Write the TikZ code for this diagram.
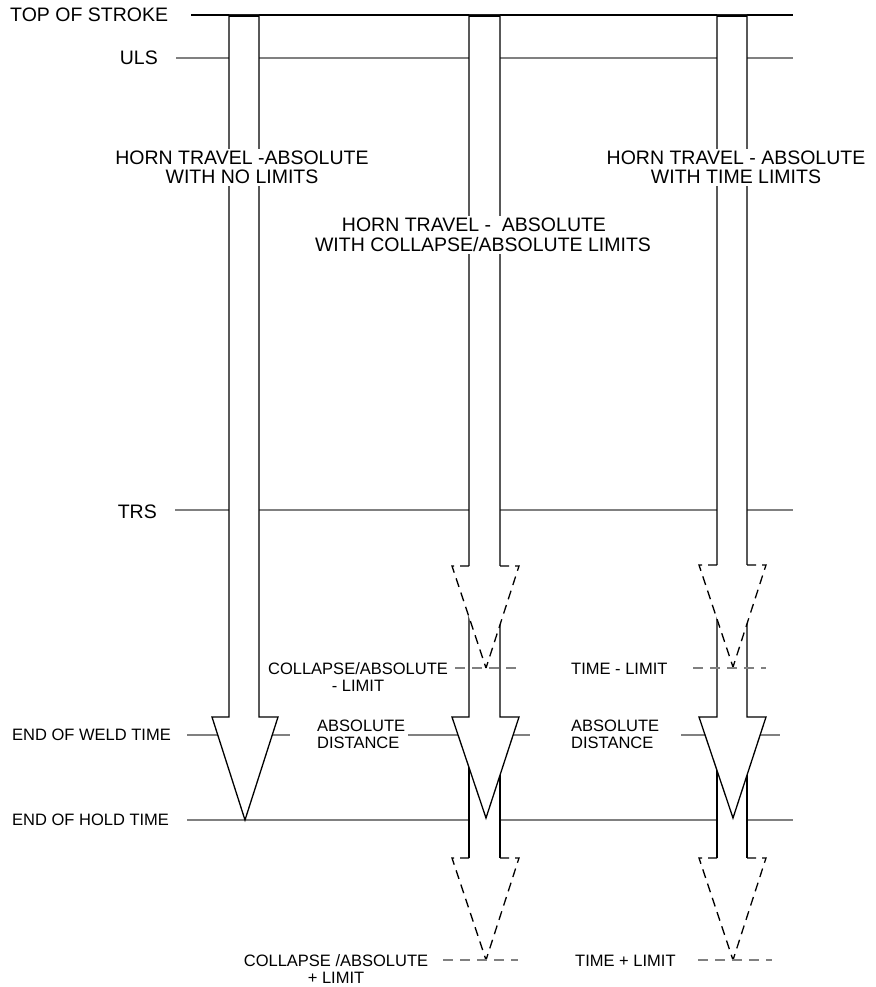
\documentclass[tikz,border=0pt]{standalone}
\usepackage{fontspec}
\setmainfont{Liberation Sans}
\begin{document}
\begin{tikzpicture}[x=1pt,y=-1pt,
  hline/.style={draw=black!50, line width=1.2pt},
  limline/.style={draw=black!50, line width=1.2pt, dash pattern=on 10pt off 7pt},
  edge/.style={draw=black, line width=1.3pt},
  dedge/.style={draw=black, line width=1.3pt, dash pattern=on 9pt off 6pt},
  big/.style={font=\fontsize{19.5}{19.5}\selectfont, inner sep=1pt},
  small/.style={font=\fontsize{16.5}{17}\selectfont, inner sep=1pt},
  title/.style={big, align=center, fill=white, inner sep=2pt},
  topcap/.style={draw=black, line width=2.6pt}
]
\useasboundingbox (0,0) rectangle (875,987);

% horizontal reference lines
\draw[black, line width=1.5pt] (191,15) -- (793,15);
\draw[hline] (176,58) -- (793,58);
\draw[hline] (175,510) -- (793,510);
\draw[hline] (187,735) -- (290,735);
\draw[hline] (408,735) -- (530,735);
\draw[hline] (681,735) -- (780,735);
\draw[hline] (187,820) -- (793,820);

% ---------- left column ----------
\filldraw[fill=white, edge] (229,15) -- (229,717) -- (212,717) -- (245,820) -- (278,717) -- (259,717) -- (259,15);
\draw[topcap] (229,16) -- (259,16);

% ---------- middle column ----------
\fill[white] (469,700) -- (469,858) -- (452,858) -- (486,960) -- (519,858) -- (500,858) -- (500,700) -- cycle;
\draw[edge] (469,717) -- (469,858);
\draw[edge] (500,717) -- (500,858);
\draw[dedge] (469,858) -- (452,858) -- (486,960);
\draw[dedge] (500,858) -- (519,858) -- (486,960);
\filldraw[fill=white, edge] (469,15) -- (469,717) -- (452,717) -- (486,818) -- (519,717) -- (500,717) -- (500,15);
\draw[topcap] (469,16) -- (500,16);
\fill[white] (452,566) -- (486,668) -- (519,566) -- cycle;
\draw[dedge] (469,566) -- (452,566) -- (486,668);
\draw[dedge] (500,566) -- (519,566) -- (486,668);

% ---------- right column ----------
\fill[white] (717,700) -- (717,858) -- (699,858) -- (733,960) -- (766,858) -- (747,858) -- (747,700) -- cycle;
\draw[edge] (717,717) -- (717,858);
\draw[edge] (747,717) -- (747,858);
\draw[dedge] (717,858) -- (699,858) -- (733,960);
\draw[dedge] (747,858) -- (766,858) -- (733,960);
\filldraw[fill=white, edge] (717,15) -- (717,717) -- (699,717) -- (733,818) -- (766,717) -- (747,717) -- (747,15);
\draw[topcap] (717,16) -- (747,16);
\fill[white] (699,565) -- (733,667) -- (766,565) -- cycle;
\draw[dedge] (717,565) -- (699,565) -- (733,667);
\draw[dedge] (747,565) -- (766,565) -- (733,667);

% limit lines
\draw[limline] (455,668) -- (523,668);
\draw[limline] (693,668) -- (766,668);
\draw[limline] (443,960) -- (518,960);
\draw[limline] (698,960) -- (772,960);

% labels
\node[big, anchor=west] (tos) at (9,15) {TOP OF STROKE};
\node[big, anchor=east] (uls) at (159,58) {ULS};
\node[big, anchor=east] (trs) at (158,512) {TRS};
\node[small, anchor=west] (eow) at (11,735) {END OF WELD TIME};
\node[small, anchor=west] (eoh) at (11,820) {END OF HOLD TIME};
\node[title] (t1) at (242,167.5) {HORN TRAVEL -ABSOLUTE\\WITH NO LIMITS};
\node[title] (t2) at (483,235) {HORN TRAVEL -\ \ ABSOLUTE\hspace*{18pt}\\WITH COLLAPSE/ABSOLUTE LIMITS};
\node[title] (t3) at (736,167.5) {HORN TRAVEL - ABSOLUTE\\WITH TIME LIMITS};
\node[small, align=center] (cml) at (358,677.5) {COLLAPSE/ABSOLUTE\\- LIMIT};
\node[small, align=left, anchor=west] (ad1) at (316,734) {ABSOLUTE\\DISTANCE};
\node[small, anchor=west] (tml) at (570,669) {TIME - LIMIT};
\node[small, align=left, anchor=west] (ad2) at (570,734.5) {ABSOLUTE\\DISTANCE};
\node[small, align=center] (cpl) at (336,969) {COLLAPSE /ABSOLUTE\\+ LIMIT};
\node[small, anchor=west] (tpl) at (574,961) {TIME + LIMIT};
\end{tikzpicture}
\end{document}
